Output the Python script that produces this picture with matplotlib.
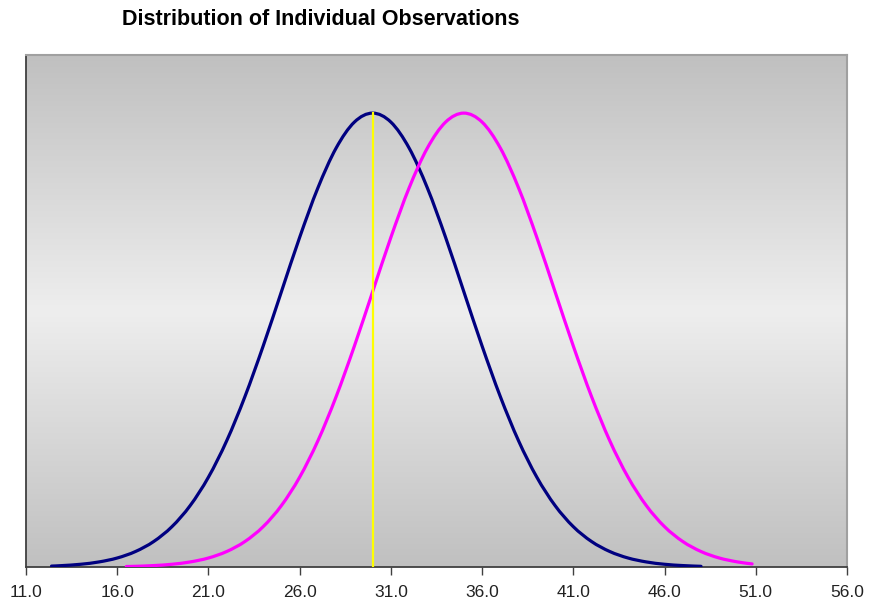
import numpy as np
import matplotlib
matplotlib.use("Agg")
import matplotlib.pyplot as plt
from matplotlib.colors import LinearSegmentedColormap
from matplotlib.path import Path
from matplotlib.patches import PathPatch

# Curve heights (arbitrary density units, peak ~0.0798)
current_x = [12.4, 13, 14, 15, 16, 17, 18, 19, 20, 21, 22, 23, 24, 25, 26, 27,
             28, 29, 30, 31, 32, 33, 34, 35, 36, 37, 38, 39, 40, 41, 42, 43,
             44, 45, 46, 47, 48]
current_y = [0.00016, 0.00025, 0.00048, 0.00089, 0.00158, 0.00272, 0.00448,
             0.00709, 0.01080, 0.01579, 0.02218, 0.02995, 0.03884, 0.04839,
             0.05794, 0.06664, 0.07365, 0.07821, 0.07979, 0.07821, 0.07365,
             0.06664, 0.05794, 0.04839, 0.03884, 0.02995, 0.02218, 0.01579,
             0.01080, 0.00709, 0.00448, 0.00272, 0.00158, 0.00089, 0.00048,
             0.00025, 0.00012]

shifted_x = [16.5, 17, 18, 19, 20, 21, 22, 23, 24, 25, 26, 27, 28, 29, 30, 31,
             32, 33, 34, 35, 36, 37, 38, 39, 40, 41, 42, 43, 44, 45, 46, 47,
             48, 49, 50, 50.8]
shifted_y = [0.00009, 0.00012, 0.00025, 0.00048, 0.00089, 0.00158, 0.00272,
             0.00448, 0.00709, 0.01080, 0.01579, 0.02218, 0.02995, 0.03884,
             0.04839, 0.05794, 0.06664, 0.07365, 0.07821, 0.07979, 0.07821,
             0.07365, 0.06664, 0.05794, 0.04839, 0.03884, 0.02995, 0.02218,
             0.01579, 0.01080, 0.00709, 0.00448, 0.00272, 0.00158, 0.00089,
             0.00054]

target_x = 30.0
target_top = 0.07979

x_ticks = [11.0, 16.0, 21.0, 26.0, 31.0, 36.0, 41.0, 46.0, 51.0, 56.0]


def smooth_path(xs, ys, tension=1 / 6):
    # Bezier path through every point, like a spreadsheet "smoothed line"
    pts = np.column_stack([xs, ys])
    verts = [pts[0]]
    codes = [Path.MOVETO]
    n = len(pts)
    for i in range(n - 1):
        p0 = pts[max(i - 1, 0)]
        p1 = pts[i]
        p2 = pts[i + 1]
        p3 = pts[min(i + 2, n - 1)]
        verts += [p1 + (p2 - p0) * tension, p2 - (p3 - p1) * tension, p2]
        codes += [Path.CURVE4] * 3
    return Path(verts, codes)


plt.rcParams["font.family"] = ["Liberation Sans", "DejaVu Sans"]

fig = plt.figure(figsize=(8.72, 6.10), dpi=100, facecolor="white")
ax = fig.add_axes([0.0298, 0.0705, 0.9415, 0.8393])

ax.set_xlim(11.0, 56.0)
ax.set_ylim(0, 0.09)

# grey-white-grey vertical gradient behind the plot
grad = LinearSegmentedColormap.from_list(
    "bg", ["#c0c0c0", "#eeeeee", "#c0c0c0"])
ax.imshow(np.linspace(0, 1, 256).reshape(-1, 1), cmap=grad, aspect="auto",
          extent=[11.0, 56.0, 0, 0.09], zorder=0)

ax.add_patch(PathPatch(smooth_path(current_x, current_y), fill=False,
                       edgecolor="#000080", lw=2.3, zorder=3,
                       capstyle="round", joinstyle="round"))
ax.add_patch(PathPatch(smooth_path(shifted_x, shifted_y), fill=False,
                       edgecolor="#ff00ff", lw=2.3, zorder=3,
                       capstyle="round", joinstyle="round"))
ax.plot([target_x, target_x], [0, target_top], color="#ffff00", lw=1.6,
        zorder=4)

ax.set_xticks(x_ticks)
ax.set_xticklabels([f"{t:.1f}" for t in x_ticks], fontsize=12.5,
                   color="#222222")
ax.set_yticks([])
ax.tick_params(axis="x", direction="out", length=6, width=1,
               color="#404040", pad=7)

for side in ("left", "bottom"):
    ax.spines[side].set_color("#404040")
    ax.spines[side].set_linewidth(1.3)
for side in ("top", "right"):
    ax.spines[side].set_color("#a0a0a0")
    ax.spines[side].set_linewidth(1.5)

fig.text(0.140, 0.968, "Distribution of Individual Observations",
         fontsize=15.5, fontweight="bold", ha="left", va="center")

fig.savefig("out.png", dpi=100, facecolor="white")
